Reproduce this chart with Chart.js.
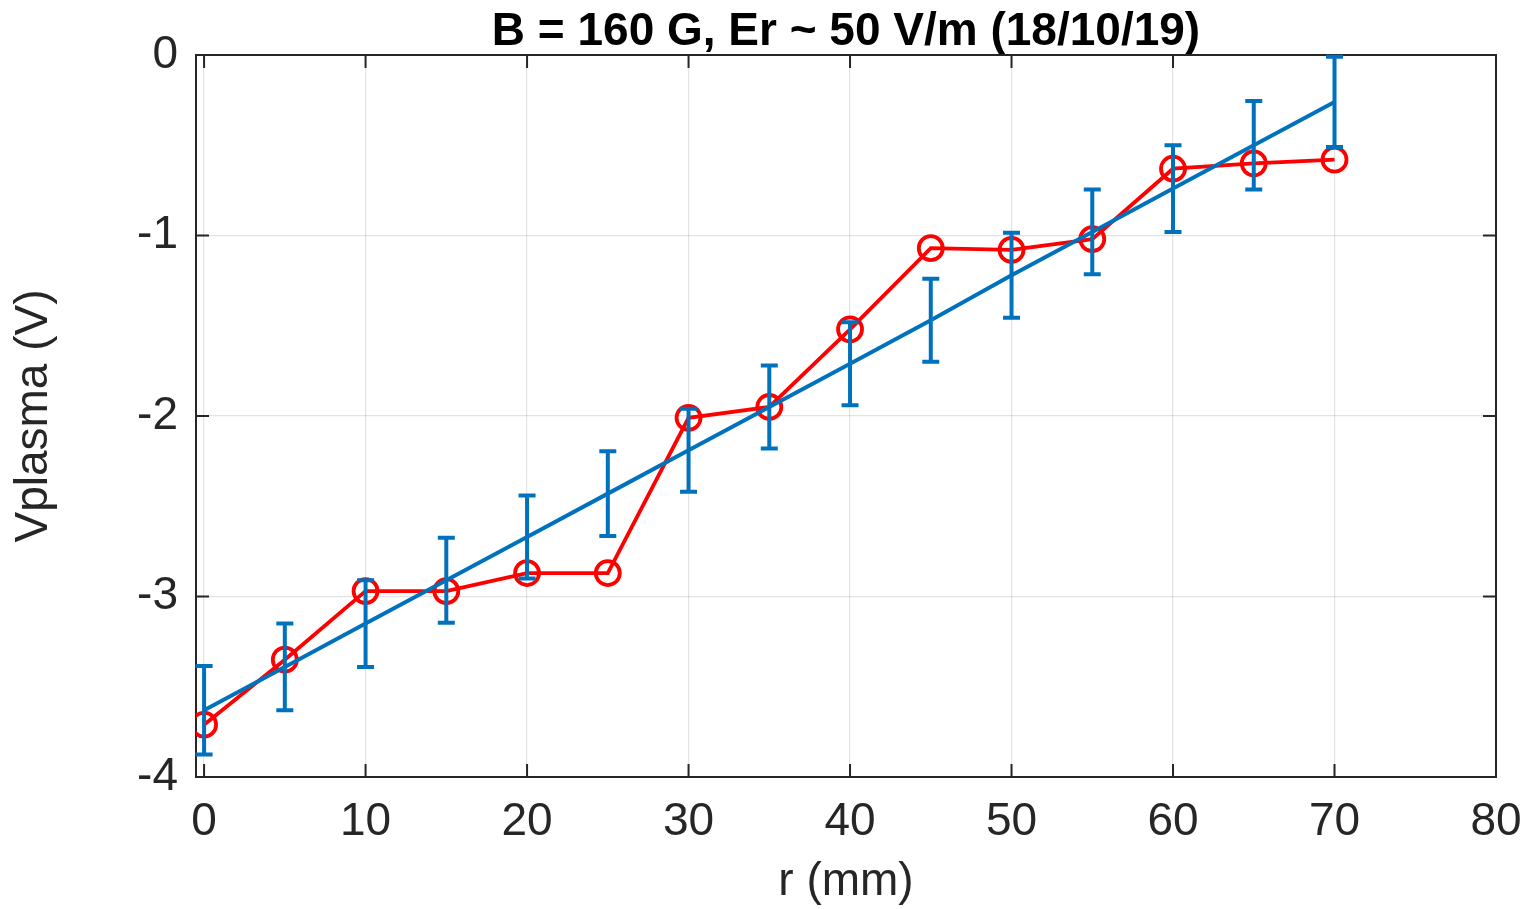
<!DOCTYPE html>
<html>
<head>
<meta charset="utf-8">
<script src="https://cdn.jsdelivr.net/npm/chart.js@4"></script>
<style>
  html, body { margin: 0; padding: 0; background: #fff; }
  canvas { display: block; }
</style>
</head>
<body>
<canvas id="c" width="1532" height="909"></canvas>
<script>
const FONT = "'Liberation Sans', Arial, Helvetica, sans-serif";
const AX = '#262626';

const rPos = [0, 5, 10, 15, 20, 25, 30, 35, 40, 45, 50, 55, 60, 65, 70];
const vMeas = [-3.71, -3.35, -2.97, -2.97, -2.87, -2.87, -2.01, -1.95, -1.52, -1.07, -1.08, -1.02, -0.63, -0.60, -0.58];
const vFit = [-3.63, -3.39, -3.15, -2.91, -2.67, -2.43, -2.19, -1.95, -1.71, -1.47, -1.22, -0.98, -0.74, -0.50, -0.26];
const vErr = [0.245, 0.24, 0.24, 0.235, 0.23, 0.235, 0.23, 0.23, 0.23, 0.23, 0.235, 0.235, 0.24, 0.245, 0.25];

const xTicks = [0, 10, 20, 30, 40, 50, 60, 70, 80];
const yTicks = [-4, -3, -2, -1, 0];

const toPts = ys => rPos.map((x, i) => ({ x, y: ys[i] }));

// box + inward tick marks, matlab style
const boxPlugin = {
  id: 'box',
  beforeDatasetsDraw(ch) {
    const c = ch.ctx, a = ch.chartArea, sx = ch.scales.x, sy = ch.scales.y;
    const L = 13;
    c.save();
    c.strokeStyle = AX; c.lineWidth = 2;
    c.beginPath();
    xTicks.forEach(v => {
      const p = sx.getPixelForValue(v);
      c.moveTo(p, a.bottom); c.lineTo(p, a.bottom - L);
      c.moveTo(p, a.top); c.lineTo(p, a.top + L);
    });
    yTicks.forEach(v => {
      const p = sy.getPixelForValue(v);
      c.moveTo(a.left, p); c.lineTo(a.left + L, p);
      c.moveTo(a.right, p); c.lineTo(a.right - L, p);
    });
    c.stroke();
    c.strokeRect(a.left, a.top, a.right - a.left, a.bottom - a.top);
    c.restore();
  }
};

const errPlugin = {
  id: 'errbars',
  afterDatasetsDraw(ch) {
    const c = ch.ctx, sx = ch.scales.x, sy = ch.scales.y;
    const cap = 8.5;
    c.save();
    c.strokeStyle = '#0072BD'; c.lineWidth = 4;
    c.beginPath();
    rPos.forEach((x, i) => {
      const px = sx.getPixelForValue(x);
      const t = sy.getPixelForValue(vFit[i] + vErr[i]);
      const b = sy.getPixelForValue(vFit[i] - vErr[i]);
      c.moveTo(px, t); c.lineTo(px, b);
      c.moveTo(px - cap, t); c.lineTo(px + cap, t);
      c.moveTo(px - cap, b); c.lineTo(px + cap, b);
    });
    c.stroke();
    c.restore();
  }
};

new Chart(document.getElementById('c'), {
  type: 'scatter',
  plugins: [boxPlugin, errPlugin],
  data: {
    datasets: [
      {
        label: 'fit',
        data: toPts(vFit), showLine: true,
        borderColor: '#0072BD', borderWidth: 4,
        pointRadius: 0, fill: false, order: 0
      },
      {
        label: 'Vplasma',
        data: toPts(vMeas), showLine: true,
        borderColor: '#FF0000', borderWidth: 3.8,
        pointStyle: 'circle', pointRadius: 12, pointBorderWidth: 3.8,
        pointBackgroundColor: 'rgba(0,0,0,0)', pointBorderColor: '#FF0000',
        fill: false, order: 1
      }
    ]
  },
  options: {
    responsive: false, devicePixelRatio: 1,
    animation: false,
    layout: { padding: { left: 0, right: 36, top: 0, bottom: 0 } },
    scales: {
      x: {
        type: 'linear', min: -0.5, max: 80,
        afterBuildTicks: s => { s.ticks = xTicks.map(v => ({ value: v })); },
        afterFit: s => { s.height = 132; s.paddingLeft = 0; s.paddingRight = 0; },
        ticks: { color: AX, padding: 22, font: { family: FONT, size: 46, lineHeight: 1 }, maxRotation: 0 },
        grid: { color: 'rgba(38,38,38,0.13)', lineWidth: 1.2, drawTicks: false },
        border: { display: false },
        title: { display: true, text: 'r (mm)', color: AX, font: { family: FONT, size: 46, lineHeight: 1 }, padding: { top: 0, bottom: 4 } }
      },
      y: {
        type: 'linear', min: -4, max: 0,
        afterBuildTicks: s => { s.ticks = yTicks.map(v => ({ value: v })); },
        afterFit: s => { s.width = 196; s.paddingTop = 0; s.paddingBottom = 0; },
        ticks: { color: AX, padding: 18, font: { family: FONT, size: 46, lineHeight: 1 } },
        grid: { color: 'rgba(38,38,38,0.13)', lineWidth: 1.2, drawTicks: false },
        border: { display: false },
        title: { display: true, text: 'Vplasma (V)', color: AX, font: { family: FONT, size: 46, lineHeight: 1 }, padding: { top: 11, bottom: 0 } }
      }
    },
    plugins: {
      legend: { display: false },
      tooltip: { enabled: false },
      title: {
        display: true, fullSize: false, text: 'B = 160 G, Er ~ 50 V/m (18/10/19)', color: '#000',
        font: { family: FONT, size: 46, weight: 'bold', lineHeight: 1 },
        padding: { top: 9, bottom: 0 }
      }
    }
  }
});
</script>
</body>
</html>
